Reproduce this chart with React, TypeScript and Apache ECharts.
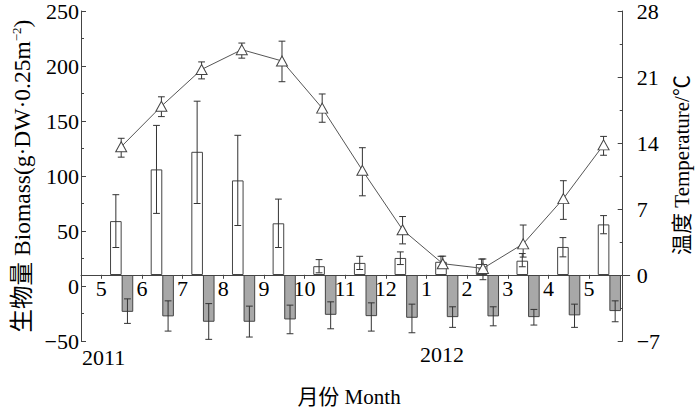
import React, { useEffect, useRef } from "react";
import * as echarts from "echarts";

// Month tick labels (May 2011 – May 2012)
const MONTH_LABELS = ["5", "6", "7", "8", "9", "10", "11", "12", "1", "2", "3", "4", "5"];
const YEAR_LABELS = ["2011", "2012"];
const LEFT_TICKS = { min: -50, max: 250, interval: 50 };
const RIGHT_TICKS = { min: -7, max: 28, interval: 7 };

// Biomass value (left axis) at which the bars start (the drawn baseline)
const BAR_BASE = 10;

// White bars (read on the left biomass axis)
const UP_VAL = [59, 106, 122, 96, 57, 18, 21, 25.5, 22, 20, 23, 35.5, 56];
const UP_HI = [83, 146, 168, 137, 79, 24, 27, 31, 27, 24.5, 29.5, 44, 64];
const UP_LO = [35, 66, 75, 55, 35, 12, 15, 19.5, 17, 15.5, 17.5, 26.5, 47.5];

// Grey bars (read on the left biomass axis)
const DOWN_VAL = [-23.5, -27.6, -32.5, -32.5, -30.4, -26.2, -27.4, -28.9, -28.3, -27.6, -28.3, -26.7, -22.8];
const DOWN_HI = [-11.7, -13.5, -16, -18.3, -17.4, -14.4, -15.3, -16.5, -18.9, -18.9, -21.3, -16.5, -13.5];
const DOWN_LO = [-34, -41, -48.5, -46.4, -43.4, -38.9, -41, -42.5, -37.6, -36.2, -35.5, -37.6, -32.5];

// Temperature (right axis, °C)
const TEMP = [13.6, 17.9, 21.8, 23.9, 22.7, 17.7, 11.1, 4.8, 1.2, 0.7, 3.3, 8.1, 13.8];
const TEMP_HI = [14.5, 18.9, 22.6, 24.6, 24.8, 19.2, 13.5, 6.2, 2.0, 1.7, 5.3, 10.0, 14.7];
const TEMP_LO = [12.5, 16.8, 20.8, 23.0, 20.5, 16.2, 8.4, 3.3, 0.8, -0.5, 1.9, 5.9, 12.7];

const FONT = "'Liberation Serif', 'Noto Sans CJK SC', serif";
const LINE = "#444";
const BAR_W = 11.6;
const GRID_TOP = 10;
const GRID_H = 331;

const minus = (v: number) => String(v).replace("-", "\u2212");

function errorBars(dx: number) {
  return (params: any, api: any) => {
    const x = api.value(0);
    const lo = api.value(1);
    const hi = api.value(2);
    const pHi = api.coord([x, hi]);
    const pLo = api.coord([x, lo]);
    const cx = pHi[0] + dx;
    const cap = 3.4;
    const style = { stroke: "#333", lineWidth: 1, fill: "none" };
    return {
      type: "group",
      children: [
        { type: "line", shape: { x1: cx, y1: pHi[1], x2: cx, y2: pLo[1] }, style },
        { type: "line", shape: { x1: cx - cap, y1: pHi[1], x2: cx + cap, y2: pHi[1] }, style },
        { type: "line", shape: { x1: cx - cap, y1: pLo[1], x2: cx + cap, y2: pLo[1] }, style },
      ],
    };
  };
}

export default function App() {
  const ref = useRef<HTMLDivElement>(null);

  useEffect(() => {
    if (!ref.current) return;
    const chart = echarts.init(ref.current, undefined, { renderer: "svg" });
    const idx = MONTH_LABELS.map((_, i) => i);
    // the month axis sits on the temperature axis' zero
    const zeroOffset = -GRID_H * (0 - RIGHT_TICKS.min) / (RIGHT_TICKS.max - RIGHT_TICKS.min);

    const option: any = {
      animation: false,
      backgroundColor: "#fff",
      textStyle: { fontFamily: FONT },
      grid: { left: 81, right: 58, top: GRID_TOP, height: GRID_H, containLabel: false },
      xAxis: [
        {
          type: "value",
          position: "bottom",
          offset: zeroOffset,
          min: -1,
          max: 12.5,
          axisLine: { show: true, onZero: false, lineStyle: { color: LINE, width: 1 } },
          axisTick: {
            show: true,
            inside: false,
            length: 4,
            customValues: idx.map((i) => i - 0.5),
            lineStyle: { color: LINE },
          },
          axisLabel: {
            customValues: idx.map((i) => i - 0.5),
            formatter: (v: number) => MONTH_LABELS[Math.round(v + 0.5)] ?? "",
            fontSize: 22,
            fontFamily: FONT,
            color: "#000",
            margin: 3,
          },
          splitLine: { show: false },
        },
        {
          type: "value",
          position: "top",
          min: -1,
          max: 12.65,
          show: false,
          axisLine: { onZero: false },
          splitLine: { show: false },
        },
      ],
      yAxis: [
        {
          type: "value",
          position: "left",
          min: LEFT_TICKS.min,
          max: LEFT_TICKS.max,
          interval: LEFT_TICKS.interval,
          name: "{a|生物量 Biomass(g·DW·0.25m}{s|−2}{a|)}",
          nameLocation: "middle",
          nameRotate: 90,
          nameGap: 47,
          nameTextStyle: {
            color: "#000",
            rich: {
              a: { fontSize: 23.5, fontFamily: FONT, color: "#000" },
              s: { fontSize: 13, fontFamily: FONT, color: "#000", verticalAlign: "top" },
            },
          },
          axisLine: { show: true, onZero: false, lineStyle: { color: LINE } },
          axisTick: { show: true, inside: true, length: 5, lineStyle: { color: LINE } },
          minorTick: { show: true, splitNumber: 2, length: 3, lineStyle: { color: LINE } },
          axisLabel: { fontSize: 22, fontFamily: FONT, color: "#000", margin: 2, formatter: minus },
          splitLine: { show: false },
        },
        {
          type: "value",
          position: "right",
          offset: -7,
          min: RIGHT_TICKS.min,
          max: RIGHT_TICKS.max,
          interval: RIGHT_TICKS.interval,
          name: "温度 Temperature/℃",
          nameLocation: "middle",
          nameRotate: 90,
          nameGap: 42,
          nameTextStyle: { fontSize: 21, fontFamily: FONT, color: "#000", padding: [0, 0, 0, 22] },
          axisLine: { show: true, onZero: false, lineStyle: { color: LINE } },
          axisTick: { show: true, inside: true, length: 5, lineStyle: { color: LINE } },
          minorTick: { show: true, splitNumber: 2, length: 3, lineStyle: { color: LINE } },
          axisLabel: { fontSize: 22, fontFamily: FONT, color: "#000", margin: 14, formatter: minus },
          splitLine: { show: false },
        },
        {
          type: "value",
          show: false,
          min: LEFT_TICKS.min - BAR_BASE,
          max: LEFT_TICKS.max - BAR_BASE,
          axisLine: { onZero: false },
          splitLine: { show: false },
        },
      ],
      graphic: [
        {
          type: "text",
          x: 82,
          y: 357,
          style: { text: YEAR_LABELS[0], fontSize: 22, fontFamily: FONT, fill: "#000", align: "left", verticalAlign: "middle" },
        },
        {
          type: "text",
          x: 420,
          y: 354,
          style: { text: YEAR_LABELS[1], fontSize: 22, fontFamily: FONT, fill: "#000", align: "left", verticalAlign: "middle" },
        },
        {
          type: "text",
          x: 349,
          y: 397,
          style: { text: "月份 Month", fontSize: 21, fontFamily: FONT, fill: "#000", align: "center", verticalAlign: "middle" },
        },
      ],
      series: [
        {
          type: "bar",
          xAxisIndex: 0,
          yAxisIndex: 2,
          barWidth: BAR_W,
          barGap: "0%",
          data: UP_VAL.map((v, i) => [i, v - BAR_BASE]),
          itemStyle: { color: "#ffffff", borderColor: "#444", borderWidth: 1 },
          z: 2,
        },
        {
          type: "bar",
          xAxisIndex: 0,
          yAxisIndex: 2,
          barWidth: BAR_W,
          barGap: "0%",
          data: DOWN_VAL.map((v, i) => [i, v - BAR_BASE]),
          itemStyle: { color: "#a8a8a8", borderColor: "#444", borderWidth: 1 },
          z: 2,
        },
        {
          type: "custom",
          xAxisIndex: 0,
          yAxisIndex: 2,
          renderItem: errorBars(-BAR_W / 2),
          encode: { x: 0, y: [1, 2] },
          data: UP_VAL.map((_, i) => [i, UP_LO[i] - BAR_BASE, UP_HI[i] - BAR_BASE]),
          z: 3,
        },
        {
          type: "custom",
          xAxisIndex: 0,
          yAxisIndex: 2,
          renderItem: errorBars(BAR_W / 2),
          encode: { x: 0, y: [1, 2] },
          data: DOWN_VAL.map((_, i) => [i, DOWN_LO[i] - BAR_BASE, DOWN_HI[i] - BAR_BASE]),
          z: 3,
        },
        {
          type: "custom",
          xAxisIndex: 1,
          yAxisIndex: 1,
          renderItem: errorBars(0),
          encode: { x: 0, y: [1, 2] },
          data: TEMP.map((_, i) => [i, TEMP_LO[i], TEMP_HI[i]]),
          z: 4,
        },
        {
          type: "line",
          xAxisIndex: 1,
          yAxisIndex: 1,
          data: TEMP.map((v, i) => [i, v]),
          symbol: "triangle",
          symbolSize: [11, 10],
          showSymbol: true,
          lineStyle: { color: "#555", width: 1 },
          itemStyle: { color: "#ffffff", borderColor: "#444", borderWidth: 1 },
          z: 5,
        },
      ],
    };

    chart.setOption(option);
    return () => chart.dispose();
  }, []);

  return (
    <div
      ref={ref}
      style={{ position: "absolute", left: 0, top: 0, width: 700, height: 409, background: "#fff" }}
    />
  );
}
